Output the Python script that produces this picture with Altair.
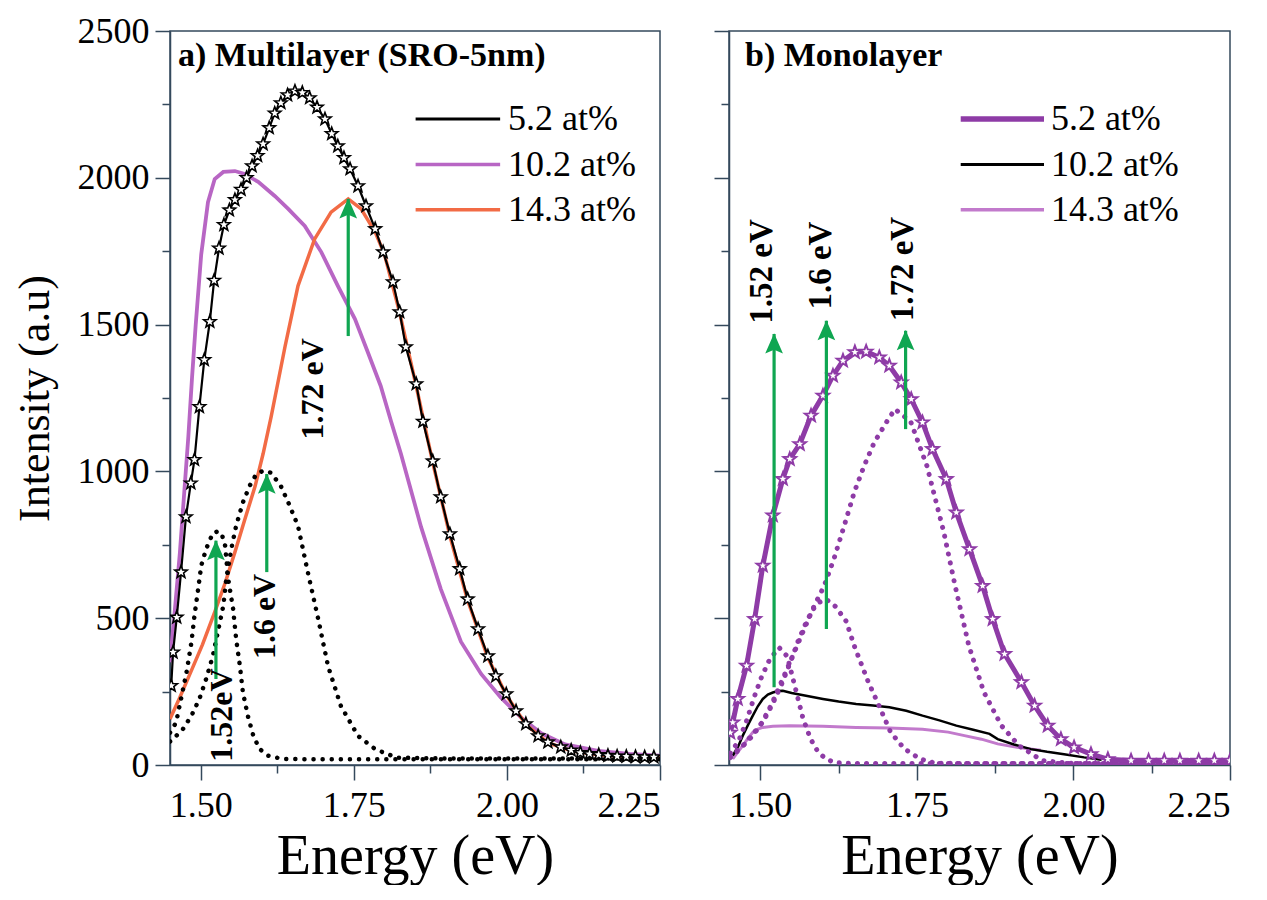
import math
import altair as alt
import pandas as pd

# ---------------- data ----------------
SERIES = ["5.2 at%", "10.2 at%", "14.3 at%"]

# panel a) Multilayer (SRO-5nm)
A52_E = [1.452, 1.455, 1.461, 1.468, 1.476, 1.484, 1.490, 1.498, 1.506, 1.515, 1.522, 1.530,
         1.538, 1.547, 1.556, 1.566, 1.575, 1.584, 1.593, 1.602, 1.612, 1.621, 1.631, 1.642,
         1.654, 1.666, 1.678, 1.690, 1.703, 1.714, 1.724, 1.734, 1.744, 1.757, 1.770, 1.785,
         1.798, 1.814, 1.825, 1.835, 1.852, 1.863, 1.879, 1.892, 1.907, 1.923, 1.936, 1.953,
         1.969, 1.982, 1.999, 2.015, 2.031, 2.051, 2.067, 2.088, 2.105, 2.120, 2.135, 2.150,
         2.165, 2.180, 2.195, 2.210, 2.225, 2.240]
A52_I = [270, 384, 503, 657, 845, 960, 1040, 1220, 1380, 1510, 1650, 1760,
         1840, 1890, 1925, 1960, 2000, 2040, 2075, 2115, 2170, 2220, 2255, 2282,
         2295, 2290, 2272, 2240, 2200, 2150, 2108, 2068, 2030, 1972, 1904, 1826,
         1747, 1645, 1543, 1424, 1298, 1170, 1035, 913, 787, 668, 565, 463,
         371, 303, 242, 184, 140, 99, 78, 61, 50, 42, 38, 35,
         32, 30, 29, 28, 27, 27]

A102_E = [1.450, 1.458, 1.466, 1.474, 1.480, 1.486, 1.492, 1.501, 1.512, 1.523, 1.537, 1.556,
          1.572, 1.594, 1.621, 1.643, 1.670, 1.697, 1.724, 1.752, 1.773, 1.794, 1.811, 1.827,
          1.860, 1.892, 1.925, 1.958, 1.990, 2.023, 2.056, 2.095, 2.149, 2.200, 2.250]
A102_I = [350, 530, 720, 950, 1120, 1320, 1500, 1740, 1917, 1996, 2020, 2023,
          2013, 1986, 1938, 1894, 1836, 1747, 1632, 1519, 1406, 1291, 1170, 1060,
          810, 600, 420, 310, 230, 162, 108, 70, 48, 38, 32]

A143_E = [1.450, 1.466, 1.484, 1.503, 1.523, 1.540, 1.556, 1.572, 1.589, 1.602, 1.615, 1.638,
          1.659, 1.686, 1.713, 1.741, 1.762, 1.785, 1.800, 1.825, 1.852, 1.879, 1.907, 1.936,
          1.969, 1.999, 2.031, 2.067, 2.105, 2.150, 2.200, 2.250]
A143_I = [157, 230, 317, 410, 521, 620, 725, 835, 950, 1060, 1185, 1427,
          1632, 1791, 1883, 1928, 1894, 1815, 1740, 1540, 1290, 1030, 780, 560,
          365, 238, 138, 76, 48, 34, 28, 25]

AG1_E = [1.450, 1.460, 1.468, 1.477, 1.485, 1.490, 1.496, 1.501, 1.509, 1.520, 1.527, 1.534,
         1.540, 1.545, 1.553, 1.558, 1.564, 1.569, 1.577, 1.586, 1.596, 1.610, 1.632, 1.660,
         1.700, 1.800, 1.900, 2.000, 2.100, 2.250]
AG1_I = [110, 145, 225, 316, 418, 509, 600, 679, 736, 790, 795, 790,
         747, 634, 532, 429, 339, 248, 168, 100, 55, 32, 21, 20,
         20, 20, 20, 20, 20, 20]

AG2_E = [1.450, 1.455, 1.471, 1.485, 1.498, 1.509, 1.520, 1.528, 1.537, 1.542, 1.550, 1.558,
         1.569, 1.580, 1.591, 1.600, 1.607, 1.615, 1.631, 1.645, 1.659, 1.675, 1.692, 1.708,
         1.729, 1.757, 1.785, 1.820, 1.900, 2.000, 2.100, 2.250]
AG2_I = [80, 88, 122, 168, 225, 293, 372, 452, 542, 633, 735, 815,
         894, 951, 991, 1000, 1002, 995, 950, 885, 814, 657, 497, 337,
         201, 99, 54, 25, 22, 22, 22, 22]

A_ARROW_E = [1.525, 1.608, 1.741]
A_ARROW_LO = [293, 657, 1461]
A_ARROW_HI = [764, 991, 1928]
A_LABEL_TXT = ["1.52eV", "1.6 eV", "1.72 eV"]
A_LABEL_E = [1.535, 1.605, 1.683]
A_LABEL_I = [170, 506, 1281]

# panel b) Monolayer
B52_E = [1.452, 1.456, 1.464, 1.478, 1.491, 1.504, 1.520, 1.536, 1.547, 1.563, 1.581, 1.600,
         1.616, 1.632, 1.651, 1.669, 1.690, 1.706, 1.725, 1.741, 1.759, 1.775, 1.797, 1.813,
         1.834, 1.855, 1.871, 1.890, 1.917, 1.938, 1.959, 1.980, 2.001, 2.028, 2.055, 2.092,
         2.120, 2.145, 2.170, 2.200, 2.225, 2.250]
B52_I = [110, 145, 225, 338, 497, 679, 850, 974, 1042, 1093, 1190, 1258,
         1326, 1377, 1406, 1408, 1388, 1360, 1303, 1246, 1167, 1076, 974, 860,
         735, 610, 497, 378, 282, 202, 134, 88, 60, 37, 20, 15,
         15, 15, 15, 15, 15, 15]

B102_E = [1.456, 1.465, 1.472, 1.480, 1.488, 1.496, 1.504, 1.512, 1.520, 1.528, 1.536, 1.550,
          1.573, 1.600, 1.625, 1.653, 1.680, 1.706, 1.733, 1.759, 1.786, 1.813, 1.840, 1.866,
          1.879, 1.905, 1.932, 1.958, 1.985, 2.017, 2.045]
B102_I = [32, 65, 100, 135, 168, 200, 225, 240, 247, 252, 253, 245,
          236, 225, 216, 208, 203, 197, 185, 168, 152, 134, 120, 106,
          88, 70, 54, 45, 37, 26, 18]

B143_E = [1.456, 1.464, 1.472, 1.480, 1.488, 1.496, 1.504, 1.520, 1.547, 1.600, 1.653, 1.706,
          1.759, 1.800, 1.826, 1.853, 1.879, 1.910, 1.948]
B143_I = [21, 44, 66, 90, 111, 122, 128, 132, 134, 132, 128, 126,
          122, 112, 100, 88, 72, 60, 50]

BG1_E = [1.452, 1.465, 1.478, 1.490, 1.502, 1.515, 1.530, 1.543, 1.555, 1.568, 1.580, 1.592,
         1.605, 1.620, 1.650, 1.700, 1.800, 1.900, 2.000, 2.100, 2.250]
BG1_I = [40, 80, 150, 230, 300, 360, 400, 370, 270, 160, 90, 45,
         20, 8, 5, 5, 5, 5, 5, 5, 5]

BG2_E = [1.452, 1.470, 1.490, 1.505, 1.520, 1.535, 1.548, 1.560, 1.572, 1.584, 1.595, 1.605,
         1.620, 1.637, 1.651, 1.672, 1.690, 1.708, 1.730, 1.756, 1.780, 1.850, 1.950, 2.050,
         2.150, 2.250]
BG2_I = [25, 60, 110, 150, 210, 280, 350, 420, 480, 530, 555, 565,
         540, 490, 400, 285, 200, 112, 55, 20, 6, 5, 5, 5,
         5, 5]

BG3_E = [1.452, 1.480, 1.500, 1.517, 1.538, 1.554, 1.570, 1.586, 1.602, 1.618, 1.634, 1.650,
         1.666, 1.682, 1.703, 1.715, 1.740, 1.766, 1.793, 1.811, 1.833, 1.857, 1.885, 1.913,
         1.950, 2.000, 2.100, 2.250]
BG3_I = [30, 80, 134, 202, 304, 383, 463, 542, 610, 705, 815, 929,
         1020, 1099, 1173, 1212, 1170, 1019, 793, 611, 406, 248, 134, 66,
         15, 5, 5, 5]

B_ARROW_E = [1.522, 1.6055, 1.732]
B_ARROW_LO = [265, 463, 1144]
B_ARROW_HI = [1468, 1513, 1479]
B_LABEL_TXT = ["1.52 eV", "1.6 eV", "1.72 eV"]
B_LABEL_E = [1.503, 1.597, 1.7285]
B_LABEL_I = [1681, 1701, 1689]

# ---------------- styling ----------------
FONT = "Liberation Serif"
AXC = "#34495c"
GREEN = "#0fa651"
A_COLORS = ["#000000", "#b866c4", "#f26b45"]
A_WIDTHS = [2.5, 3, 3]
B_COLORS = ["#8e3ba6", "#000000", "#c27acc"]
B_WIDTHS = [5, 2.5, 3]
PURPLE = "#8e3ba6"

X_DOM = [1.45, 2.25]
Y_DOM = [0, 2500]
X_MAJOR = [1.50, 1.75, 2.00, 2.25]
X_MINOR = [1.625, 1.875, 2.125]
Y_MAJOR = [0, 500, 1000, 1500, 2000, 2500]
Y_MINOR = [250, 750, 1250, 1750, 2250]

LEG_I = [2200, 2045, 1891]
A_LEG_E = (1.851, 1.989, 2.002)
B_LEG_E = (1.820, 1.953, 1.964)

A_TITLE = ("a) Multilayer (SRO-5nm)", 1.463, 2380)
B_TITLE = ("b) Monolayer", 1.4755, 2380)

# star and arrow-head symbol paths (unit box)
pts = []
for k in range(10):
    r = 1.0 if k % 2 == 0 else 0.42
    a = math.radians(-90 + 36 * k)
    pts.append(f"{r * math.cos(a):.3f},{r * math.sin(a):.3f}")
STAR = "M" + "L".join(pts) + "Z"
HEAD = "M0,-1L0.7,0.6L0,0.3L-0.7,0.6Z"

xs = alt.Scale(domain=X_DOM, nice=False, zero=False)
ys = alt.Scale(domain=Y_DOM, nice=False, zero=False)


def frame(e, i):
    return pd.DataFrame({"e": e, "i": i})


def enc(chart, xaxis=None, yaxis=None):
    return chart.encode(
        x=alt.X("e:Q", scale=xs, axis=xaxis),
        y=alt.Y("i:Q", scale=ys, axis=yaxis),
    )


def line(e, i, color, width, dotted=False, xaxis=None, yaxis=None):
    kw = dict(color=color, strokeWidth=width, clip=True)
    if dotted:
        kw.update(strokeDash=[0.1, 9], strokeCap="round")
    return enc(alt.Chart(frame(e, i)).mark_line(**kw), xaxis, yaxis)


def stars(e, i, color, sw):
    return enc(alt.Chart(frame(e, i)).mark_point(
        shape=STAR, size=170, fill="white", stroke=color, strokeWidth=sw,
        opacity=1, fillOpacity=1, strokeOpacity=1, clip=True))


def arrows(ae, lo, hi):
    d = pd.DataFrame({"e": ae, "lo": lo, "hi": hi})
    rules = alt.Chart(d).mark_rule(color=GREEN, strokeWidth=3.2).encode(
        x=alt.X("e:Q", scale=xs, axis=None),
        y=alt.Y("lo:Q", scale=ys, axis=None),
        y2=alt.Y2("hi:Q"),
    )
    heads = alt.Chart(d).mark_point(
        shape=HEAD, size=640, filled=True, color=GREEN, opacity=1, yOffset=12
    ).encode(
        x=alt.X("e:Q", scale=xs, axis=None),
        y=alt.Y("hi:Q", scale=ys, axis=None),
    )
    return [rules, heads]


def labels(le, li, txt, size=32):
    d = pd.DataFrame({"e": le, "i": li, "t": txt})
    return enc(alt.Chart(d).mark_text(
        angle=270, font=FONT, fontWeight="bold", fontSize=size, color="black",
        align="center", baseline="middle")).encode(text="t:N")


def title_text(t):
    d = pd.DataFrame({"e": [t[1]], "i": [t[2]], "t": [t[0]]})
    return enc(alt.Chart(d).mark_text(
        font=FONT, fontWeight="bold", fontSize=34, color="black",
        align="left", baseline="alphabetic")).encode(text="t:N")


def legend(lx, colors, widths):
    out = []
    for name, lev, c, w in zip(SERIES, LEG_I, colors, widths):
        d = pd.DataFrame({"e": [lx[0]], "e2": [lx[1]], "i": [lev]})
        out.append(alt.Chart(d).mark_rule(color=c, strokeWidth=w + 0.5).encode(
            x=alt.X("e:Q", scale=xs, axis=None), x2="e2:Q",
            y=alt.Y("i:Q", scale=ys, axis=None)))
    d = pd.DataFrame({"e": [lx[2]] * 3, "i": LEG_I, "t": SERIES})
    out.append(enc(alt.Chart(d).mark_text(
        font=FONT, fontSize=36, color="black", align="left", baseline="middle"
    )).encode(text="t:N"))
    return out


x_major = alt.Axis(values=X_MAJOR, format=".2f", title="Energy (eV)", tickSize=15,
                   labelPadding=8, titlePadding=6, orient="bottom")
x_minor = alt.Axis(values=X_MINOR, labels=False, title=None, tickSize=8,
                   domain=False, orient="bottom")
y_major_a = alt.Axis(values=Y_MAJOR, format="d", title="Intensity (a.u)", tickSize=15,
                     labelPadding=6, titlePadding=20, orient="left")
y_major_b = alt.Axis(values=Y_MAJOR, labels=False, title=None, tickSize=15, orient="left")
y_minor = alt.Axis(values=Y_MINOR, labels=False, title=None, tickSize=8,
                   domain=False, orient="left")

# ---------------- panel a ----------------
a_layers = [
    line(A102_E, A102_I, A_COLORS[1], 3.8, xaxis=x_major, yaxis=y_major_a),
    line(A143_E, A143_I, A_COLORS[2], 3.5, xaxis=x_minor, yaxis=y_minor),
    line(AG1_E, AG1_I, "black", 4.5, dotted=True),
    line(AG2_E, AG2_I, "black", 4.5, dotted=True),
    line(A52_E, A52_I, "black", 2.2),
    stars(A52_E, A52_I, "black", 1.6),
    *arrows(A_ARROW_E, A_ARROW_LO, A_ARROW_HI),
    labels(A_LABEL_E, A_LABEL_I, A_LABEL_TXT),
    title_text(A_TITLE),
    *legend(A_LEG_E, A_COLORS, A_WIDTHS),
]
panel_a = alt.layer(*a_layers).resolve_axis(x="independent", y="independent").properties(
    width=490, height=734)

# ---------------- panel b ----------------
b_layers = [
    line(B143_E, B143_I, B_COLORS[2], 3, xaxis=x_major, yaxis=y_major_b),
    line(B102_E, B102_I, "black", 2.5, xaxis=x_minor, yaxis=y_minor),
    line(BG1_E, BG1_I, PURPLE, 5, dotted=True),
    line(BG2_E, BG2_I, PURPLE, 5, dotted=True),
    line(BG3_E, BG3_I, PURPLE, 5, dotted=True),
    line(B52_E, B52_I, PURPLE, 5),
    stars(B52_E, B52_I, PURPLE, 2),
    *arrows(B_ARROW_E, B_ARROW_LO, B_ARROW_HI),
    labels(B_LABEL_E, B_LABEL_I, B_LABEL_TXT, 33),
    title_text(B_TITLE),
    *legend(B_LEG_E, B_COLORS, B_WIDTHS),
]
panel_b = alt.layer(*b_layers).resolve_axis(x="independent", y="independent").properties(
    width=501, height=734)

chart = alt.hconcat(panel_a, panel_b, spacing=69, bounds="flush").properties(
    padding={"left": 4, "top": 4, "right": 0, "bottom": 0}
).configure(font=FONT, background="white").configure_view(
    stroke=AXC, strokeWidth=1.5
).configure_axis(
    domainColor=AXC, domainWidth=1.5, tickColor=AXC, tickWidth=1.5, grid=False,
    labelFont=FONT, labelFontSize=36, labelColor="black",
    titleFont=FONT, titleFontWeight="normal", titleColor="black",
).configure_axisX(titleFontSize=56).configure_axisY(titleFontSize=44)

chart.save("out.html", embed_options={"renderer": "svg", "actions": False})
